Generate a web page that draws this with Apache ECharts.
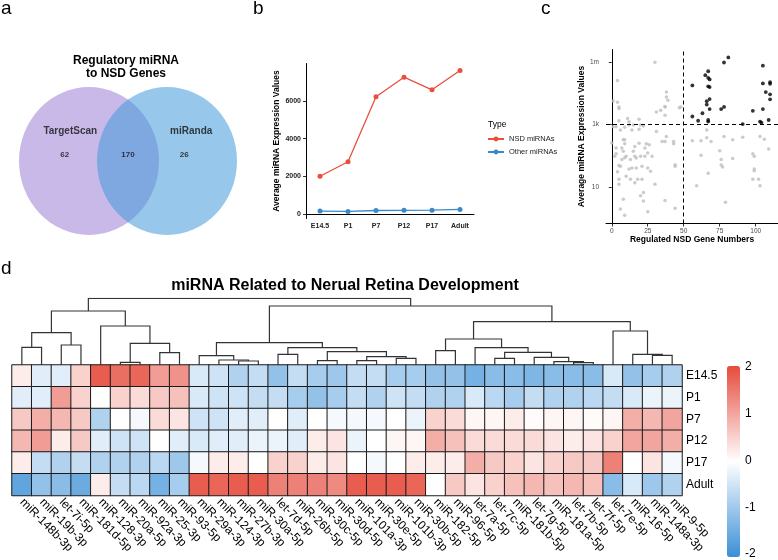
<!DOCTYPE html>
<html><head><meta charset="utf-8">
<script src="https://cdn.jsdelivr.net/npm/echarts@6/dist/echarts.min.js"></script>
<style>html,body{margin:0;padding:0;background:#fff}#c{width:778px;height:560px}</style>
</head><body><div id="c"></div>
<script>
// ---------- Panel a: Venn ----------
const vennSets = ['TargetScan', 'miRanda'];
const vennCounts = [62, 170, 26]; // TargetScan only, both, miRanda only

// ---------- Panel b: line chart ----------
const stages = ['E14.5', 'P1', 'P7', 'P12', 'P17', 'Adult'];
const typeNames = ['NSD miRNAs', 'Other miRNAs'];
const nsdExpr = [2010, 2780, 6210, 7250, 6580, 7600];
const otherExpr = [170, 150, 200, 210, 220, 260];
const bYTicks = [0, 2000, 4000, 6000];

// ---------- Panel c: scatter ----------
const cGenes = [56,56,60,63,65,66,66,67,67,68,67,68,68,68,67,67,76,78,78,81,91,98,103,104,105,105,105,107,110,110,110,110,109,
  1,0,1,2,3,3,3,4,4,4,5,5,5,5,5,5,6,6,6,7,7,8,8,8,9,9,9,9,9,10,10,11,12,12,12,13,13,14,14,15,15,16,16,16,17,17,18,19,19,19,20,20,20,21,21,22,22,22,23,23,24,25,25,25,26,27,28,30,30,31,31,34,35,37,37,37,37,37,38,38,38,39,43,43,44,44,44,47,48,
  56,59,62,62,66,66,67,69,75,76,76,77,78,79,84,84,91,98,99,99,99,98,102,103,103,106,109];
const cExpr = [58000,2100,1400,2900,196000,10000,7000,320000,142000,117000,52000,48000,12600,4400,1500,1300,4400,5500,980000,1900000,1030,3700,1300,1160,4400,650000,73000,27000,85000,70000,21000,12200,1500,
  10300,200,810,72,133,87,810,25,8900,105000,5500,4700,1400,38,16,12,36,3.7,600,133,57,260,104,5.6,187,2.9,260,65,760,19,72,1750,1280,940,30,16,57,32,600,940,104,13,152,72,64,32,16,197,640,1600,940,6.6,72,16,36,5.2,860,7.8,72,133,187,32,3.3,91,173,26,72,12,1000000,520,3300,3900,226,5700,5.3,5500,2400,226,27000,15800,340,11000,226,187,40,36,3.8,5000,5500,
  240,11,240,77,600,310,23,226,109,57,39,34,340,4.9,260,61,320,87,72,30,27,16,16,340,11,270,123];
const cGeneCut = 50, cExprCut = 1000;
const cXTicks = [0, 25, 50, 75, 100];
const cYTickValues = [10, 1000, 1000000];
const cYTickLabels = ['10', '1k', '1m'];

// ---------- Panel d: heatmap ----------
const mirnas = ['miR-148b-3p','miR-19b-3p','let-7i-5p','miR-181d-5p','miR-128-3p','miR-20a-5p','miR-92a-3p','miR-25-3p','miR-93-5p',
  'miR-29a-3p','miR-124-3p','miR-27b-3p','miR-30a-5p','let-7d-5p','miR-26b-5p','miR-30c-5p','miR-30d-5p','miR-101a-3p','miR-30e-5p',
  'miR-101b-3p','miR-30b-5p','miR-182-5p','miR-96-5p','let-7a-5p','let-7c-5p','miR-181b-5p','let-7g-5p','miR-181a-5p','let-7b-5p',
  'let-7f-5p','let-7e-5p','miR-16-5p','miR-148a-3p','miR-9-5p'];
const heatRows = ['E14.5', 'P1', 'P7', 'P12', 'P17', 'Adult'];
const zE145 = [0.2,-0.3,-0.3,0.5,1.8,1.6,1.7,1.1,1.2,-0.4,-0.5,-0.8,-0.6,-1.1,-0.6,-0.9,-1.0,-0.6,-0.6,-0.9,-0.9,-1.1,-1.1,-1.4,-1.2,-1.2,-1.3,-1.2,-1.2,-1.2,-0.4,-1.1,-0.9,-0.8];
const zP1   = [-0.3,-0.3,1.1,0.5,0.0,0.5,0.4,0.6,0.7,-0.4,-0.5,-0.5,-0.6,-0.6,-0.9,-1.1,-0.9,-0.6,-0.8,-0.5,-0.6,-0.8,-0.8,-0.4,-0.7,-0.9,-0.6,-0.8,-0.8,-0.7,-0.6,-0.4,-0.2,-0.2];
const zP7   = [0.6,0.9,0.8,0.6,-0.8,0.0,-0.1,0.4,0.3,-0.5,-0.5,-0.3,-0.3,0.0,-0.3,0.0,-0.1,-0.1,-0.1,0.0,-0.2,0.5,0.4,0.1,0.1,0.2,0.05,0.1,0.1,0.05,0.1,0.9,0.8,1.0];
const zP12  = [0.8,1.1,0.2,0.6,-0.3,-0.5,-0.5,0.0,-0.3,-0.4,-0.3,-0.3,-0.2,-0.2,-0.3,0.2,0.3,-0.2,0.0,0.1,0.1,0.9,0.7,0.4,0.4,0.4,0.4,0.3,0.2,0.3,0.5,1.0,1.0,0.9];
const zP17  = [0.2,-0.6,-0.8,-0.6,-0.8,-0.8,-0.8,-0.7,-1.0,-0.1,0.2,0.2,0.0,0.5,0.5,0.2,0.3,0.0,-0.1,0.0,0.2,0.2,0.2,0.9,0.6,0.5,0.3,0.5,0.6,0.6,1.4,0.0,0.3,-0.1];
const zAdult= [-1.6,-1.1,-1.2,-1.5,0.2,-0.6,-0.7,-1.4,-0.9,1.8,1.7,1.8,1.8,1.4,1.4,1.4,1.3,1.8,1.8,1.8,1.7,0.0,0.6,0.3,0.5,0.7,0.8,0.7,0.8,0.7,-1.2,-0.4,-1.0,-0.8];
// column dendrogram: [left, right, mergeHeight]; numbers are column indices
const dendroTree = [
  [[[0,1,17.7],[2,3,20],32.3],[4,[[5,6,2.7],[7,8,12.3],21.7],39],54],
  [[[9,[10,[11,12,4],5],9.3],[[13,14,10.7],[[15,16,4.3],[[17,18,4.3],[19,20,6.7],8.3],13.3],17.3],22.3],
   [[[21,22,14.3],[23,[[24,25,6.7],[26,[27,[28,29,2.3],3.3],7.7],12.7],17.3],26],[30,[31,[32,33,9.7],10.7],34],43.3],59],
  66.7];
const colorTicks = [-2, -1, 0, 1, 2];

// ---------- build ----------
const FONT = '"Liberation Sans", Arial, Helvetica, sans-serif';
const tf = v => Math.sqrt(Math.log10(v));

const cNsd = [], cOther = [];
cGenes.forEach((g, i) => {
  const p = [g, tf(cExpr[i])];
  (g > cGeneCut && cExpr[i] > cExprCut ? cNsd : cOther).push(p);
});
const cYT = cYTickValues.map(tf);

const zRows = [zE145, zP1, zP7, zP12, zP17, zAdult];
const heatData = [];
zRows.forEach((row, r) => row.forEach((v, c) => heatData.push([c, r, v])));

const segs = [];
function walk(n) {
  if (typeof n === 'number') return { x: n + 0.5, h: 0 };
  const L = walk(n[0]), R = walk(n[1]), h = n[2];
  segs.push({ coords: [[L.x, L.h], [L.x, h], [R.x, h], [R.x, R.h]] });
  return { x: (L.x + R.x) / 2, h: h };
}
walk(dendroTree);

const hidden = { show: false };
const txt = (x, y, text, size, weight, align, extra) => Object.assign({
  type: 'text', x: x, y: y,
  style: { text: text, font: (weight || 'normal') + ' ' + size + 'px ' + FONT, fill: '#000',
    align: align || 'left', verticalAlign: 'middle' }
}, extra || {});

const option = {
  animation: false,
  backgroundColor: '#fff',
  textStyle: { fontFamily: FONT },
  grid: [
    { left: 11, top: 130, width: 234, height: 62 },
    { left: 306, top: 63.5, width: 168, height: 155 },
    { left: 606, top: 49.5, width: 172, height: 174 },
    { left: 12, top: 298.3, width: 670, height: 66.7 },
    { left: 12, top: 365, width: 670, height: 130.5 },
    { left: 727, top: 367, width: 13, height: 188 }
  ],
  xAxis: [
    { gridIndex: 0, type: 'value', min: -1, max: 2, show: false },
    { gridIndex: 1, type: 'category', data: stages, boundaryGap: true,
      axisLine: { lineStyle: { color: '#000', width: 1 } },
      axisTick: { alignWithLabel: true, length: 3, lineStyle: { color: '#333' } },
      axisLabel: { fontSize: 7, fontWeight: 'bold', color: '#222', margin: 4 } },
    { gridIndex: 2, type: 'value', min: -4, max: 115.5,
      name: 'Regulated NSD Gene Numbers', nameLocation: 'middle', nameGap: 12,
      nameTextStyle: { fontSize: 8.5, fontWeight: 'bold', color: '#000' },
      axisLine: { lineStyle: { color: '#000', width: 1 } },
      axisTick: { length: 3, customValues: cXTicks, lineStyle: { color: '#333' } },
      axisLabel: { fontSize: 6.5, color: '#4d4d4d', margin: 4, customValues: cXTicks },
      splitLine: hidden },
    { gridIndex: 3, type: 'value', min: 0, max: mirnas.length, show: false },
    { gridIndex: 4, type: 'category', data: mirnas, position: 'bottom',
      axisLine: hidden, axisTick: hidden,
      axisLabel: { interval: 0, rotate: -45, fontSize: 12, color: '#000', margin: 5 } },
    { gridIndex: 5, type: 'category', data: ['bar'], show: false }
  ],
  yAxis: [
    { gridIndex: 0, type: 'value', min: -1, max: 1, show: false },
    { gridIndex: 1, type: 'value', min: -222, max: 7972,
      name: 'Average miRNA Expression Values', nameLocation: 'middle', nameGap: 21,
      nameTextStyle: { fontSize: 8.5, fontWeight: 'bold', color: '#000' },
      axisLine: { show: true, lineStyle: { color: '#000', width: 1 } },
      axisTick: { show: true, length: 3, customValues: bYTicks, lineStyle: { color: '#333' } },
      axisLabel: { fontSize: 7, fontWeight: 'bold', color: '#222', margin: 5, customValues: bYTicks,
        formatter: v => String(v) },
      splitLine: hidden },
    { gridIndex: 2, type: 'value', min: 0.585, max: 2.598,
      name: 'Average miRNA Expression Values', nameLocation: 'middle', nameGap: 18,
      nameTextStyle: { fontSize: 8.5, fontWeight: 'bold', color: '#000' },
      axisLine: { show: true, lineStyle: { color: '#000', width: 1 } },
      axisTick: { show: true, length: 3, customValues: cYT, lineStyle: { color: '#333' } },
      axisLabel: { fontSize: 6.5, color: '#4d4d4d', margin: 7, customValues: cYT,
        formatter: v => { const i = cYT.findIndex(t => Math.abs(t - v) < 1e-6); return i >= 0 ? cYTickLabels[i] : ''; } },
      splitLine: hidden },
    { gridIndex: 3, type: 'value', min: 0, max: dendroTree[2], show: false },
    { gridIndex: 4, type: 'category', data: heatRows, inverse: true, position: 'right',
      axisLine: hidden, axisTick: hidden,
      axisLabel: { fontSize: 12, color: '#000', margin: 4 } },
    { gridIndex: 5, type: 'value', min: colorTicks[0], max: colorTicks[colorTicks.length - 1], interval: 1,
      position: 'right', axisLine: hidden, axisTick: hidden, splitLine: hidden,
      axisLabel: { fontSize: 12, color: '#000', margin: 5 } }
  ],
  legend: {
    data: typeNames, orient: 'vertical', left: 487, top: 135, padding: 0,
    itemWidth: 16, itemHeight: 6, itemGap: 5,
    textStyle: { fontSize: 7.5, color: '#222', fontFamily: FONT }
  },
  visualMap: {
    type: 'continuous', min: -2, max: 2, seriesIndex: 7, show: true,
    left: 727, top: 366, itemWidth: 13, itemHeight: 191, padding: 0,
    calculable: false, text: null, showLabel: false,
    inRange: { color: ['#3A8FD6', '#FFFFFF', '#E54B3C'] }
  },
  series: [
    { type: 'scatter', xAxisIndex: 0, yAxisIndex: 0, symbolSize: [140, 148], silent: true,
      itemStyle: { color: '#C9B9E8', opacity: 1 }, data: [[0, 0]] },
    { type: 'scatter', xAxisIndex: 0, yAxisIndex: 0, symbolSize: [140, 148], silent: true,
      itemStyle: { color: 'rgb(66,155,218)', opacity: 0.55 }, data: [[1, 0]] },
    { type: 'scatter', xAxisIndex: 0, yAxisIndex: 0, symbolSize: 0, silent: true,
      label: { show: true, position: 'inside', formatter: p => p.data.t, color: '#111', fontFamily: FONT },
      data: [
        { value: [-0.24, 0.97], t: vennSets[0], label: { fontSize: 10, fontWeight: 'bold' } },
        { value: [1.31, 0.97], t: vennSets[1], label: { fontSize: 10, fontWeight: 'bold' } },
        { value: [-0.31, 0.19], t: String(vennCounts[0]), label: { fontSize: 8, fontWeight: 'bold' } },
        { value: [0.5, 0.19], t: String(vennCounts[1]), label: { fontSize: 8, fontWeight: 'bold' } },
        { value: [1.22, 0.19], t: String(vennCounts[2]), label: { fontSize: 8, fontWeight: 'bold' } }
      ] },
    { name: typeNames[0], type: 'line', xAxisIndex: 1, yAxisIndex: 1, data: nsdExpr,
      symbol: 'circle', symbolSize: 5, color: '#E8503E', lineStyle: { width: 1.3 } },
    { name: typeNames[1], type: 'line', xAxisIndex: 1, yAxisIndex: 1, data: otherExpr,
      symbol: 'circle', symbolSize: 5, color: '#3A88C8', lineStyle: { width: 1.3 } },
    { type: 'scatter', xAxisIndex: 2, yAxisIndex: 2, data: cOther, symbolSize: 3.5,
      itemStyle: { color: '#BEBEBE' }, silent: true,
      markLine: { silent: true, symbol: ['none', 'none'], label: { show: false },
        lineStyle: { color: '#000', type: [4, 3], width: 1 },
        data: [{ xAxis: cGeneCut }, { yAxis: tf(cExprCut) }] } },
    { type: 'scatter', xAxisIndex: 2, yAxisIndex: 2, data: cNsd, symbolSize: 3.8,
      itemStyle: { color: '#000' }, silent: true },
    { type: 'heatmap', xAxisIndex: 4, yAxisIndex: 4, data: heatData,
      itemStyle: { borderColor: '#1a1a1a', borderWidth: 1 } },
    { type: 'lines', coordinateSystem: 'cartesian2d', xAxisIndex: 3, yAxisIndex: 3, polyline: true,
      silent: true, lineStyle: { color: '#333', width: 1.2, opacity: 1 }, data: segs },
    { type: 'scatter', xAxisIndex: 5, yAxisIndex: 5, data: [] }
  ],
  graphic: [
    txt(1, 9, 'a', 19),
    txt(253, 9, 'b', 19),
    txt(541, 9, 'c', 19),
    txt(1, 269, 'd', 19),
    txt(126, 61, 'Regulatory miRNA', 12, 'bold', 'center'),
    txt(126, 74, 'to NSD Genes', 12, 'bold', 'center'),
    txt(488, 125, 'Type', 8.5, 'normal', 'left'),
    txt(345, 286, 'miRNA Related to Nerual Retina Development', 16, 'bold', 'center')
  ]
};
const chart = echarts.init(document.getElementById('c'));
chart.setOption(option);
</script>
</body></html>
